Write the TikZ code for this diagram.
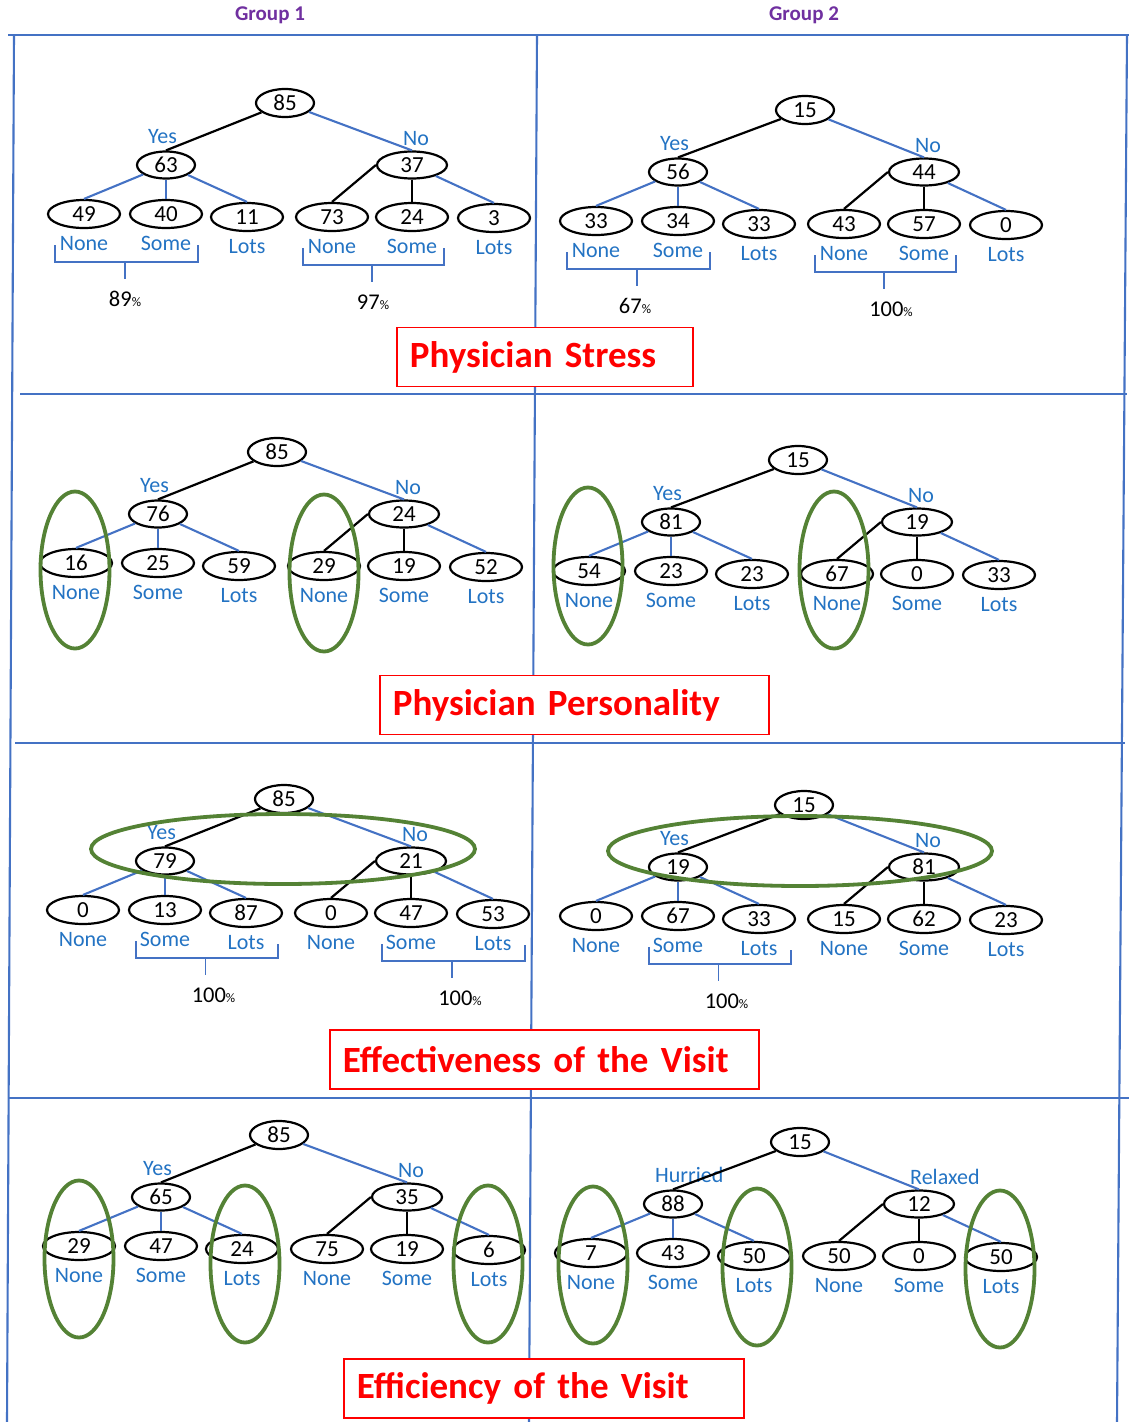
\documentclass[tikz,border=0pt]{standalone}
\usepackage{fontspec}
\setmainfont{Carlito}
\usetikzlibrary{shapes.geometric,positioning,calc}
\definecolor{frameblue}{RGB}{68,114,196}
\definecolor{answerblue}{RGB}{35,115,195}
\definecolor{grouppurple}{RGB}{112,48,160}
\definecolor{ringgreen}{RGB}{84,130,53}
\tikzstyle{num} = [draw, ellipse, line width=2.2pt, inner sep=0pt, minimum height=27pt, font=\fontsize{23}{23}\selectfont]
\tikzstyle{top_n} = [num, minimum width=58pt, minimum height=28pt]
\tikzstyle{yes_n} = [num, minimum width=58pt]
\tikzstyle{no_n} = [num, minimum width=70pt]
\tikzstyle{leaf} = [num, minimum width=72pt, minimum height=28pt]
\tikzstyle{answer} = [text=answerblue, inner sep=0pt, font=\fontsize{22}{22}\selectfont]
\tikzstyle{blk} = [draw, line width=2.2pt]
\tikzstyle{blu} = [draw=frameblue, line width=2.1pt]
\tikzstyle{bracket} = [draw=frameblue, line width=1.7pt]
\tikzstyle{pct} = [inner sep=0pt, font=\fontsize{22.5}{22.5}\selectfont]
\tikzstyle{ring} = [draw=ringgreen, ellipse, line width=3.8pt, minimum width=69pt, minimum height=157pt, inner sep=0pt]
\tikzstyle{flatring} = [ring, minimum width=384pt, minimum height=70pt]
\tikzstyle{gridline} = [draw=frameblue, line width=2.1pt]
\tikzstyle{titlebox} = [draw=red, fill=white, line width=1.8pt, text=red, anchor=west, align=left, inner xsep=13pt, inner ysep=0pt, minimum height=59pt, font=\bfseries\fontsize{37}{37}\selectfont]
\tikzstyle{grouplabel} = [text=grouppurple, inner sep=0pt, font=\bfseries\fontsize{21}{21}\selectfont]

\newcommand{\smallpct}{{\fontsize{13}{13}\selectfont\%}}

% root and the two answers of one tree
\newcommand{\treetop}[9]{
	\coordinate (#1c) at (#2,-#3);
	\node [top_n] (#1r) at ($(#1c)+(#9,0)$) {#4};
	\node [yes_n] (#1a) at ($(#1c)+(-123,-62)$) {#5};
	\node [no_n] (#1b) at ($(#1c)+(123,-62)$) {#6};
	\node [answer, anchor=base west] (#1ya) at ($(#1a)+(-18,22)$) {#7};
	\node [answer, anchor=base west] (#1yb) at ($(#1b)+(-9,20)$) {#8};
	\path [blk] (#1r) to (#1a.north);
	\path [blu] (#1r) to (#1b.north);
}

% the six leaves of one tree
\newcommand{\treeleaves}[7]{
	\node [leaf] (#1l1) at ($(#1a)+(-82,-49)$) {#2};
	\node [leaf] (#1l2) at ($(#1a)+(0,-49)$) {#3};
	\node [leaf] (#1l3) at ($(#1a)+(81,-52)$) {#4};
	\node [leaf] (#1l4) at ($(#1b)+(-80,-52)$) {#5};
	\node [leaf] (#1l5) at ($(#1b)+(0,-52)$) {#6};
	\node [leaf] (#1l6) at ($(#1b)+(82,-53)$) {#7};
	\node [answer, below=7pt of #1l1] (#1n1) {None};
	\node [answer, below=7pt of #1l2] (#1n2) {Some};
	\node [answer, below=7pt of #1l3] (#1n3) {Lots};
	\node [answer, below=7pt of #1l4] (#1n4) {None};
	\node [answer, below=7pt of #1l5] (#1n5) {Some};
	\node [answer, below=7pt of #1l6] (#1n6) {Lots};
	\path [blu] (#1a) to (#1l1.north);
	\path [blu] (#1a.south) to (#1l2.north);
	\path [blu] (#1a) to (#1l3.north);
	\path [blk] (#1b.west) to (#1l4.north);
	\path [blk] (#1b.south) to (#1l5.north);
	\path [blu] (#1b) to (#1l6.north);
}

% bracket under two leaves with its percentage
\newcommand{\pctbrace}[5]{
	\coordinate (#3a) at ($(#1)+(-29,-31)$);
	\coordinate (#3c) at ($(#1)+(-29,-48)$);
	\coordinate (#3b) at ($(#2)+(32,-31)$);
	\coordinate (#3m) at ($(#1)!0.5!(#2)$);
	\draw [bracket] (#3a) -- (#3c) -| (#3b);
	\draw [bracket] (#3m |- #3c) -- ++(0,-17);
	\node [pct] (#3t) at ($(#3m |- #3c)+(#5,-37)$) {#4};
}

\begin{document}
\begin{tikzpicture}[x=1pt, y=1pt]
	\useasboundingbox (0,0) rectangle (1129,-1422);
	\draw [gridline] (8,-35) -- (1129,-35);
	\draw [gridline] (20,-394) -- (1127,-394);
	\draw [gridline] (15,-743) -- (1125,-743);
	\draw [gridline] (9,-1098) -- (1129,-1098);
	\draw [gridline] (14,-35) -- (7,-1422);
	\draw [gridline] (537,-35) -- (529,-1422);
	\draw [gridline] (1127,-35) -- (1117,-1422);
	\node [grouplabel] (grp1) at (270,-15) {Group 1};
	\node [grouplabel] (grp2) at (804,-15) {Group 2};
	
	% physician stress
	\treetop{T11}{289}{103}{85}{63}{37}{Yes}{No}{-4}
	\treeleaves{T11}{49}{40}{11}{73}{24}{3}
	\pctbrace{T11l1}{T11l2}{B11a}{89\smallpct}{0}
	\pctbrace{T11l4}{T11l5}{B11b}{97\smallpct}{1}
	\treetop{T12}{801}{110}{15}{56}{44}{Yes}{No}{4}
	\treeleaves{T12}{33}{34}{33}{43}{57}{0}
	\pctbrace{T12l1}{T12l2}{B12a}{67\smallpct}{-2}
	\pctbrace{T12l4}{T12l5}{B12b}{100\smallpct}{7}
	\node [titlebox, text width=270pt] (ttl1) at (396,-357) {Physician Stress};
	
	% physician personality
	\treetop{T21}{281}{452}{85}{76}{24}{Yes}{No}{-4}
	\treeleaves{T21}{16}{25}{59}{29}{19}{52}
	\treetop{T22}{794}{460}{15}{81}{19}{Yes}{No}{4}
	\treeleaves{T22}{54}{23}{23}{67}{0}{33}
	\node [ring] (R21a) at ($(T21l1)+(-1,-7)$) {};
	\node [ring] (R21b) at ($(T21l4)+(0,-7)$) {};
	\node [ring] (R22a) at ($(T22l1)+(-1,5)$) {};
	\node [ring] (R22b) at ($(T22l4)+(-3,4)$) {};
	\node [titlebox, text width=363pt] (ttl2) at (379,-705) {Physician Personality};
	
	% effectiveness
	\treetop{T31}{288}{799}{85}{79}{21}{Yes}{No}{-4}
	\treeleaves{T31}{0}{13}{87}{0}{47}{53}
	\pctbrace{T31l2}{T31l3}{B31a}{100\smallpct}{8}
	\pctbrace{T31l5}{T31l6}{B31b}{100\smallpct}{8}
	\treetop{T32}{801}{805}{15}{19}{81}{Yes}{No}{3}
	\treeleaves{T32}{0}{67}{33}{15}{62}{23}
	\pctbrace{T32l2}{T32l3}{B32a}{100\smallpct}{8}
	\node [flatring] (F31) at ($(T31c)+(-5,-50)$) {};
	\node [flatring] (F32) at ($(T32c)+(-1,-46)$) {};
	\node [titlebox, text width=403pt] (ttl3) at (329,-1059.5) {Effectiveness of the Visit};
	
	% efficiency
	\treetop{T41}{284}{1135}{85}{65}{35}{Yes}{No}{-5}
	\treeleaves{T41}{29}{47}{24}{75}{19}{6}
	\treetop{T42}{796}{1142}{15}{88}{12}{Hurried}{Relaxed}{4}
	\treeleaves{T42}{7}{43}{50}{50}{0}{50}
	\node [ring] (R41a) at ($(T41l1)+(0,-13)$) {};
	\node [ring] (R41b) at ($(T41l3)+(3,-15)$) {};
	\node [ring] (R41c) at ($(T41l6)+(-1,-14)$) {};
	\node [ring] (R42a) at ($(T42l1)+(2,-12)$) {};
	\node [ring] (R42b) at ($(T42l3)+(3,-11)$) {};
	\node [ring] (R42c) at ($(T42l6)+(-1,-12)$) {};
	\node [titlebox, text width=374pt] (ttl4) at (343,-1388.5) {Efficiency of the Visit};
\end{tikzpicture}
\end{document}
